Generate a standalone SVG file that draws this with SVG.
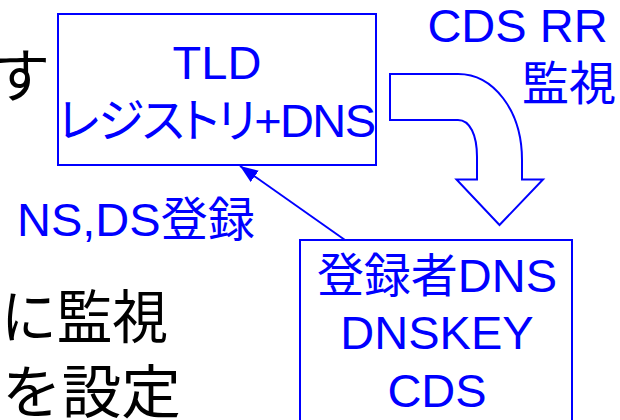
<svg xmlns="http://www.w3.org/2000/svg" width="620" height="420" viewBox="0 0 620 420">
  <defs>
    <style>
      .box { fill: #ffffff; stroke: #0000ff; stroke-width: 2; }
      .bt { fill: #0000ff; font-family: "Liberation Sans", "Noto Sans CJK JP", sans-serif; font-size: 47px; }
      .kt { fill: #000000; font-family: "Noto Sans CJK JP", sans-serif; font-size: 58px; }
      .mid { text-anchor: middle; }
      .end { text-anchor: end; }
      .conn { fill: none; stroke: #0000ff; stroke-width: 2; }
      .bent { fill: #ffffff; stroke: #0000ff; stroke-width: 2; stroke-linejoin: miter; }
    </style>
    <marker id="arrow" markerUnits="userSpaceOnUse" markerWidth="20" markerHeight="16" refX="18" refY="7" orient="auto">
      <path d="M0,0 L18,7 L0,14 Z" fill="#0000ff"/>
    </marker>
  </defs>
  <rect width="620" height="420" fill="#ffffff"/>

  <!-- background slide text (partially visible) -->
  <g id="bgtext">
    <text class="kt end" x="50" y="97">す</text>
    <text class="kt" x="1" y="338" textLength="167" lengthAdjust="spacingAndGlyphs">に監視</text>
    <text class="kt" x="2" y="413" textLength="179" lengthAdjust="spacingAndGlyphs">を設定</text>
  </g>

  <g id="connectors">
    <line class="conn" x1="345" y1="240" x2="240" y2="166" marker-end="url(#arrow)"/>
    <path id="cds-watch-arrow" class="bent" d="M390,74 H458 C493,74 522,110 522,160 V179.5 H543 L499.5,225 L456.5,179.5 H477 V157 C477,135 470,120 458,120 H390 Z"/>
  </g>

  <g id="tld">
    <rect class="box" x="58" y="14" width="318" height="151"/>
    <text class="bt mid" x="217" y="79">TLD</text>
    <text class="bt" x="58" y="137" textLength="318" lengthAdjust="spacing" style="font-feature-settings: 'palt';">レジストリ+DNS</text>
  </g>

  <g id="registrant">
    <rect class="box" x="300" y="240" width="272" height="200"/>
    <text class="bt mid" x="437" y="292">登録者DNS</text>
    <text class="bt mid" x="437" y="349">DNSKEY</text>
    <text class="bt mid" x="437" y="407">CDS</text>
  </g>

  <g id="labels">
    <text class="bt mid" x="517.5" y="42">CDS RR</text>
    <text class="bt mid" x="569" y="100">監視</text>
    <text class="bt" x="17" y="236">NS,DS登録</text>
  </g>
</svg>
